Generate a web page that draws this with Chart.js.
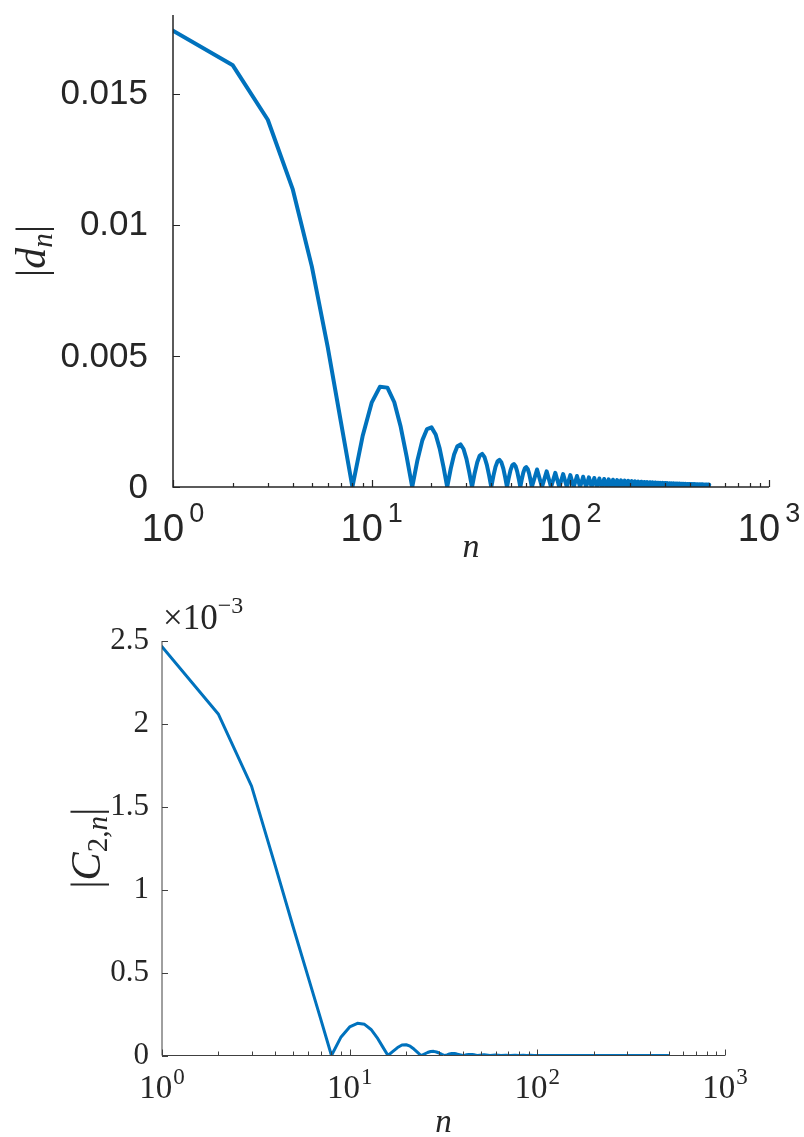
<!DOCTYPE html>
<html><head><meta charset="utf-8">
<script src="https://cdn.jsdelivr.net/npm/chart.js@4.4.0/dist/chart.umd.min.js"></script>
<style>
html,body{margin:0;padding:0;background:#fff;width:804px;height:1137px;overflow:hidden;}
#c1{position:absolute;left:0;top:0;}
#c2{position:absolute;left:0;top:570px;}
</style></head><body>
<canvas id="c1" width="804" height="570"></canvas>
<canvas id="c2" width="804" height="567"></canvas>
<script>
// ---------- data ----------
const nTop = [
  1,2,3,4,5,6,7,8,
  9,10,11,12,13,14,15,16,
  17,18,19,20,21,22,23,24,
  25,26,27,28,29,30,31,32,
  33,34,35,36,37,38,39,40,
  41,42,43,44,45,46,47,48,
  49,50,51,52,53,54,55,56,
  57,58,59,60,61,62,63,64,
  68,72,76,80,84,88,92,96,
  100,104,108,112,116,120,124,128,
  132,136,140,144,148,152,156,160,
  164,168,172,176,180,184,188,192,
  196,200,204,208,212,216,220,224,
  228,232,236,240,244,248,252,256,
  260,264,268,272,276,280,284,288,
  292,296,300,304,308,312,316,320,
  324,328,332,336,340,344,348,352,
  356,360,364,368,372,376,380,384,
  388,392,396,400,404,408,412,416,
  420,424,428,432,436,440,444,448,
  452,456,460,464,468,472,476,480,
  484,488,492,496,500
];
const dTop = [
  0.017404,0.016080,0.014006,0.011370,0.008404,0.005360,0.002486,0,
  0.001934,0.003216,0.003820,0.003790,0.003232,0.002297,0.001160,0,
  0.001024,0.001787,0.002211,0.002274,0.002001,0.001462,0.000757,0,
  0.000696,0.001237,0.001556,0.001624,0.001449,0.001072,0.000561,0,
  0.000527,0.000946,0.001200,0.001263,0.001136,0.000846,0.000446,0,
  0.000424,0.000766,0.000977,0.001034,0.000934,0.000699,0.000370,0,
  0.000355,0.000643,0.000824,0.000875,0.000793,0.000596,0.000316,0,
  0.000305,0.000554,0.000712,0.000758,0.000689,0.000519,0.000276,0,
  0.000669,0,0.000598,0,0.000541,0,0.000494,0,
  0.000455,0,0.000421,0,0.000392,0,0.000367,0,
  0.000345,0,0.000325,0,0.000307,0,0.000292,0,
  0.000277,0,0.000264,0,0.000253,0,0.000242,0,
  0.000232,0,0.000223,0,0.000215,0,0.000207,0,
  0.000199,0,0.000193,0,0.000186,0,0.000180,0,
  0.000175,0,0.000170,0,0.000165,0,0.000160,0,
  0.000156,0,0.000152,0,0.000148,0,0.000144,0,
  0.000140,0,0.000137,0,0.000134,0,0.000131,0,
  0.000128,0,0.000125,0,0.000122,0,0.000120,0,
  0.000117,0,0.000115,0,0.000113,0,0.000110,0,
  0.000108,0,0.000106,0,0.000104,0,0.000102,0,
  0.000101,0,0.0000989,0,0.0000972,0,0.0000955,0,
  0.0000940,0,0.0000924,0,0.0000910
];
const nBottom = [
  1,2,3,4,5,6,7,8,
  9,10,11,12,13,14,15,16,
  17,18,19,20,21,22,23,24,
  25,26,27,28,29,30,31,32,
  33,34,35,36,37,38,39,40,
  41,42,43,44,45,46,47,48,
  52,56,60,64,68,72,76,80,
  84,88,92,96,100,104,300,500
];
const cBottom = [
  2.466e-3,2.058e-3,1.625e-3,1.150e-3,0.775e-3,0.476e-3,0.222e-3,0,
  0.112e-3,0.172e-3,0.194e-3,0.188e-3,0.157e-3,0.108e-3,0.052e-3,0,
  0.025e-3,0.048e-3,0.063e-3,0.065e-3,0.056e-3,0.039e-3,0.019e-3,0,
  0.009e-3,0.018e-3,0.024e-3,0.025e-3,0.021e-3,0.015e-3,0.007e-3,0,
  0.004e-3,0.009e-3,0.012e-3,0.012e-3,0.010e-3,0.007e-3,0.004e-3,0,
  0.002e-3,0.005e-3,0.0063e-3,0.0065e-3,0.0055e-3,0.004e-3,0.002e-3,0,
  0.004e-3,0,0.0028e-3,0,0.002e-3,0,0.0015e-3,0,
  0.0011e-3,0,0.0009e-3,0,0.0007e-3,0,0,0
];
const xTickValues = [1, 10, 100, 1000];
const xTickExponents = ['0', '1', '2', '3'];
const yTicksTop = [0, 0.005, 0.01, 0.015];
const yTickLabelsTop = ['0', '0.005', '0.01', '0.015'];
const yTicksBottom = [0, 0.0005, 0.001, 0.0015, 0.002, 0.0025];
const yTickLabelsBottom = ['0', '0.5', '1', '1.5', '2', '2.5'];

// ---------- drawing helpers ----------
const SANS = '"Liberation Sans", Arial, Helvetica, sans-serif';
const SERIF = '"Liberation Serif", "Times New Roman", serif';

function drawRuns(ctx, runs, startX, baseY) {
  let x = startX;
  runs.forEach(r => {
    ctx.font = r.font;
    x += (r.gap || 0);
    ctx.fillText(r.text, x, baseY + (r.dy || 0));
    x += ctx.measureText(r.text).width;
  });
}
function runsWidth(ctx, runs) {
  let w = 0;
  runs.forEach(r => { ctx.font = r.font; w += ctx.measureText(r.text).width + (r.gap || 0); });
  return w;
}

const matlabAxes = {
  id: 'matlabAxes',
  afterDraw(chart, args, o) {
    const ctx = chart.ctx, xs = chart.scales.x, ys = chart.scales.y, a = chart.chartArea;
    ctx.save();
    ctx.strokeStyle = o.axisColor;
    ctx.fillStyle = o.textColor;
    ctx.lineWidth = o.axisWidth;
    ctx.beginPath();
    ctx.moveTo(a.left, a.top); ctx.lineTo(a.left, a.bottom); ctx.lineTo(a.right, a.bottom);
    ctx.stroke();
    ctx.lineWidth = o.tickWidth;
    ctx.beginPath();
    o.yTicks.forEach(v => {
      const py = Math.round(ys.getPixelForValue(v)) + 0.5;
      ctx.moveTo(a.left, py); ctx.lineTo(a.left + o.majorLen, py);
    });
    xTickValues.forEach((dec, i) => {
      const px = Math.round(xs.getPixelForValue(dec)) + 0.5;
      ctx.moveTo(px, a.bottom); ctx.lineTo(px, a.bottom - o.majorLen);
      if (i < xTickValues.length - 1) {
        for (let m = 2; m <= 9; m++) {
          const qx = Math.round(xs.getPixelForValue(dec * m)) + 0.5;
          ctx.moveTo(qx, a.bottom); ctx.lineTo(qx, a.bottom - o.minorLen);
        }
      }
    });
    ctx.stroke();
    ctx.textAlign = 'right';
    ctx.textBaseline = 'middle';
    ctx.font = o.yTickFont;
    o.yTicks.forEach((v, i) => {
      ctx.fillText(o.yTickLabels[i], a.left - o.yLabelGap, ys.getPixelForValue(v) + o.yLabelDy);
    });
    ctx.textAlign = 'left';
    ctx.textBaseline = 'alphabetic';
    xTickValues.forEach((v, i) => {
      const runs = [
        {text: '10', font: o.xBaseFont},
        {text: xTickExponents[i], font: o.xExpFont, dy: -o.expRise, gap: o.expGap}
      ];
      const w = runsWidth(ctx, runs);
      const px = xs.getPixelForValue(v);
      drawRuns(ctx, runs, px - w / 2 + o.xLabelDx, a.bottom + o.xLabelBase);
    });
    {
      const runs = [{text: 'n', font: o.xTitleFont}];
      const w = runsWidth(ctx, runs);
      drawRuns(ctx, runs, (a.left + a.right) / 2 - w / 2, a.bottom + o.xTitleBase);
    }
    {
      const w = runsWidth(ctx, o.yTitleRuns);
      ctx.save();
      ctx.translate(o.yTitleX, (a.top + a.bottom) / 2 + o.yTitleDy);
      ctx.rotate(-Math.PI / 2);
      drawRuns(ctx, o.yTitleRuns, -w / 2, 0);
      ctx.restore();
    }
    if (o.multiplier) {
      drawRuns(ctx, o.multiplier, a.left + o.multDx, a.top + o.multBase);
    }
    ctx.restore();
  }
};

function makeChart(id, nArr, vArr, yMax, padding, yWidth, xHeight, lineWidth, axOpts) {
  return new Chart(document.getElementById(id), {
    type: 'line',
    data: {
      datasets: [{
        data: nArr.map((n, i) => ({x: n, y: vArr[i]})),
        borderColor: '#0072BD',
        borderWidth: lineWidth,
        pointRadius: 0,
        tension: 0,
        fill: false,
        borderJoinStyle: 'round',
        borderCapStyle: 'round'
      }]
    },
    options: {
      responsive: false,
      animation: false,
      devicePixelRatio: 1,
      events: [],
      layout: {padding},
      plugins: {legend: {display: false}, tooltip: {enabled: false}, matlabAxes: axOpts},
      scales: {
        x: {type: 'logarithmic', min: 1, max: 1000,
            grid: {display: false}, border: {display: false}, ticks: {display: false},
            afterFit(s) { s.height = xHeight; }},
        y: {type: 'linear', min: 0, max: yMax,
            grid: {display: false}, border: {display: false}, ticks: {display: false},
            afterFit(s) { s.width = yWidth; }}
      }
    },
    plugins: [matlabAxes]
  });
}

// top chart: |d_n|
makeChart('c1', nTop, dTop, 0.018,
  {left: 0, right: 35, top: 15, bottom: 0}, 173, 83, 4,
  {
    axisColor: '#262626', textColor: '#262626', axisWidth: 1.5, tickWidth: 1.2,
    majorLen: 7, minorLen: 4,
    yTicks: yTicksTop, yTickLabels: yTickLabelsTop,
    yTickFont: '35px ' + SANS, yLabelGap: 25, yLabelDy: 1,
    xBaseFont: '38px ' + SANS, xExpFont: '27px ' + SANS, expRise: 19, expGap: 5, xLabelBase: 54, xLabelDx: 0,
    xTitleFont: 'italic 34px ' + SERIF, xTitleBase: 70,
    yTitleX: 45, yTitleDy: 0,
    yTitleRuns: [
      {text: '|', font: '42px ' + SERIF},
      {text: 'd', font: 'italic 42px ' + SERIF},
      {text: 'n', font: 'italic 29px ' + SERIF, dy: 7},
      {text: '|', font: '42px ' + SERIF}
    ]
  });

// bottom chart: |C_{2,n}|
makeChart('c2', nBottom, cBottom, 0.0025,
  {left: 0, right: 79, top: 71, bottom: 0}, 162, 81.5, 3,
  {
    axisColor: '#404040', textColor: '#262626', axisWidth: 1, tickWidth: 1,
    majorLen: 6, minorLen: 4,
    yTicks: yTicksBottom, yTickLabels: yTickLabelsBottom,
    yTickFont: '31px ' + SERIF, yLabelGap: 13, yLabelDy: 0,
    xBaseFont: '33px ' + SERIF, xExpFont: '23px ' + SERIF, expRise: 14, expGap: 1, xLabelBase: 42, xLabelDx: 0,
    xTitleFont: 'italic 33px ' + SERIF, xTitleBase: 76,
    yTitleX: 100, yTitleDy: 0,
    yTitleRuns: [
      {text: '|', font: '42px ' + SERIF},
      {text: 'C', font: 'italic 42px ' + SERIF},
      {text: '2,', font: '29px ' + SERIF, dy: 7},
      {text: 'n', font: 'italic 29px ' + SERIF, dy: 7},
      {text: '|', font: '42px ' + SERIF}
    ],
    multiplier: [
      {text: '×10', font: '35px ' + SERIF},
      {text: '−3', font: '24px ' + SERIF, dy: -16}
    ],
    multDx: 1, multBase: -12
  });
</script>
</body></html>
